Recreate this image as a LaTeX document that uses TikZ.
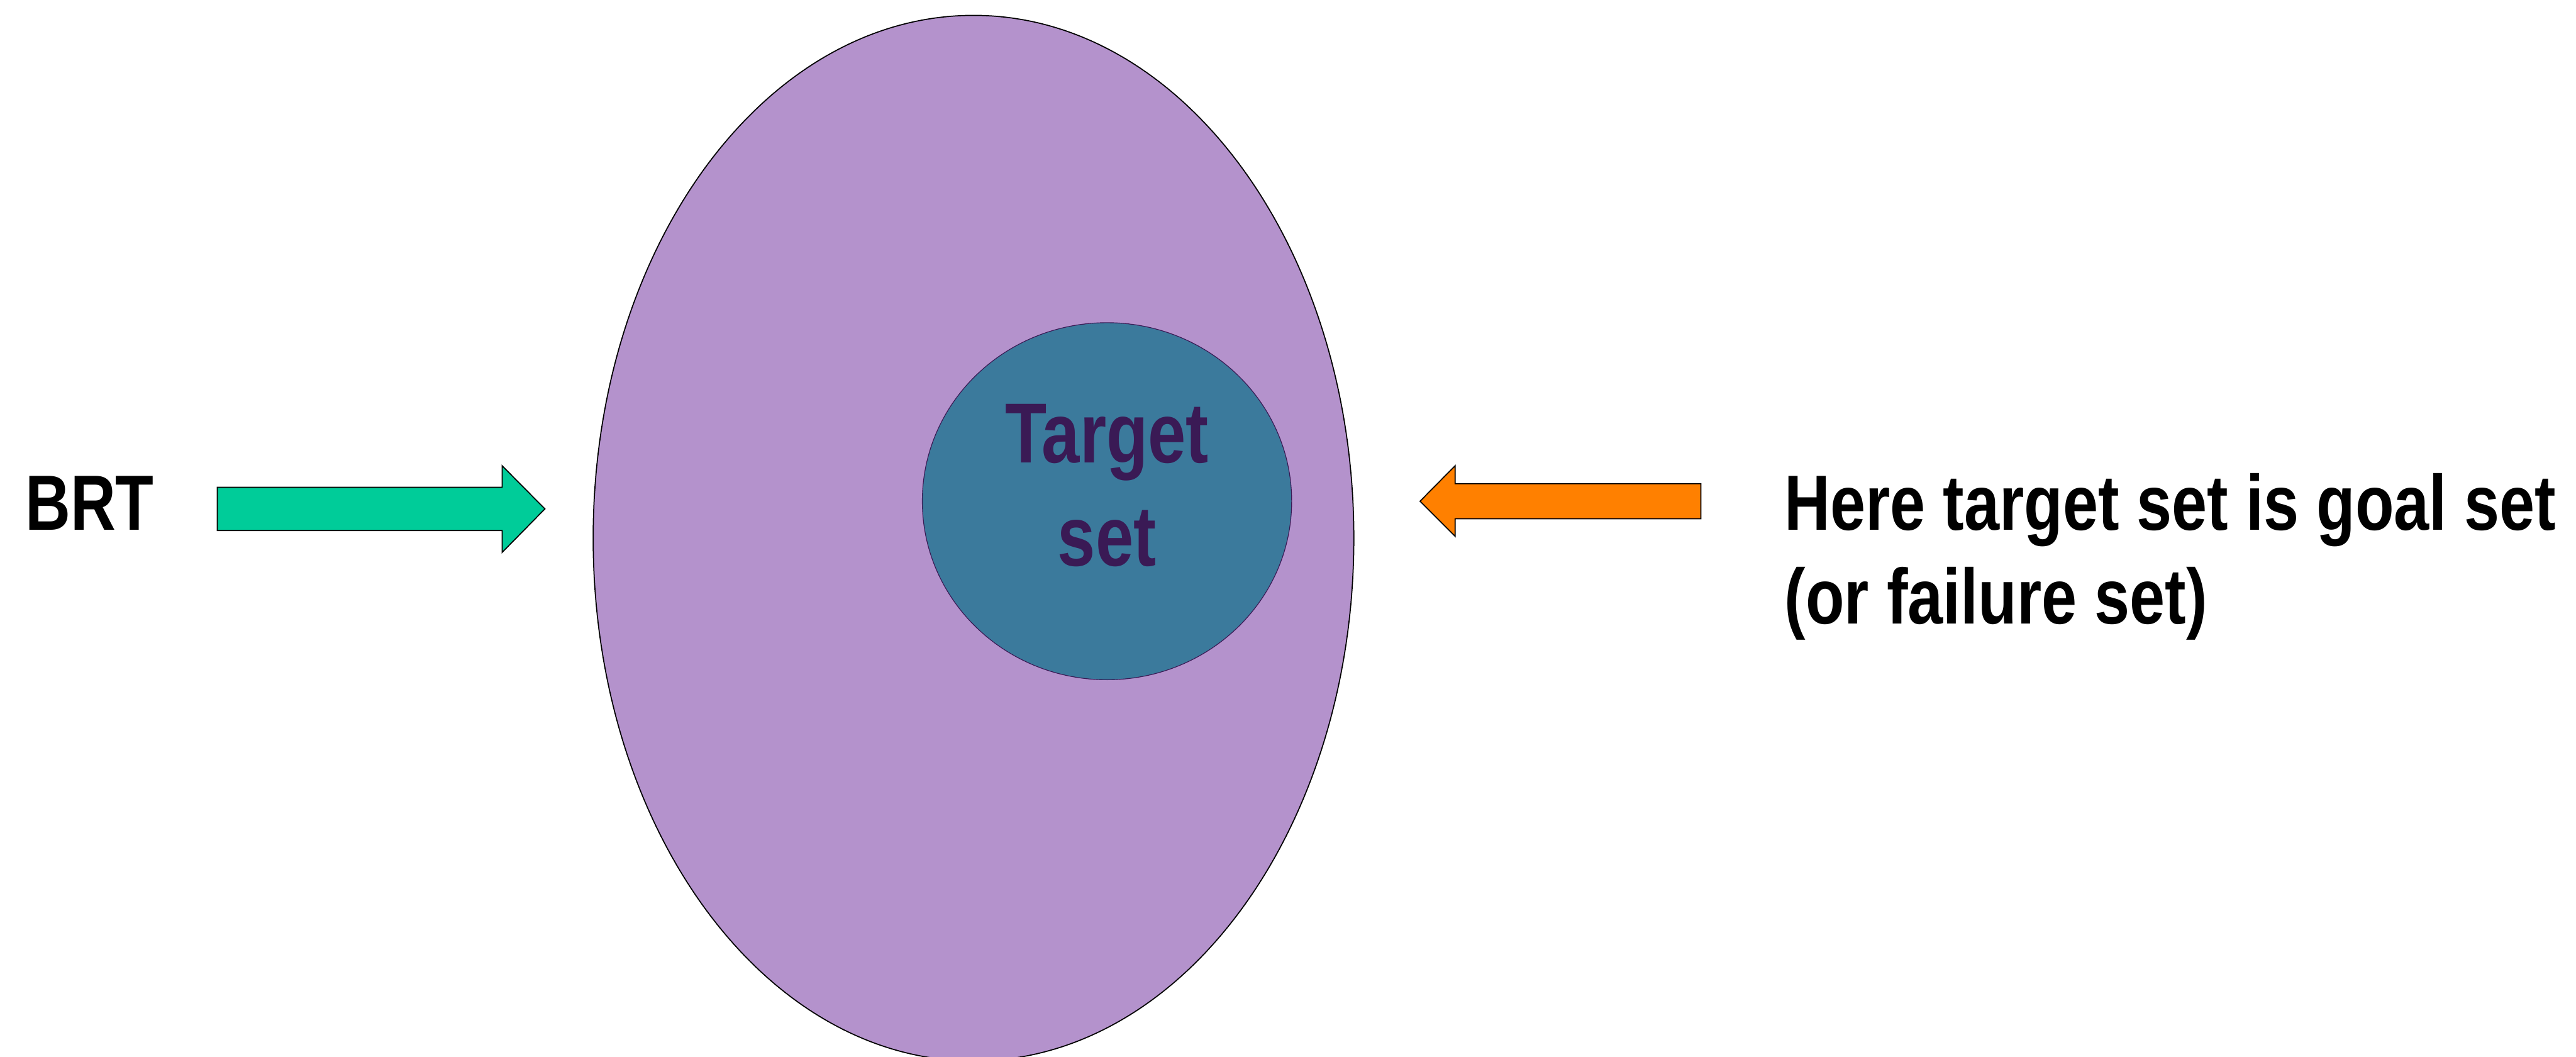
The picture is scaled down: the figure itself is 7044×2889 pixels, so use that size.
\documentclass[tikz,border=0pt]{standalone}
\usepackage{fontspec}
\setmainfont{Liberation Sans}[FakeStretch=0.8]
\newfontfamily\notefont{Liberation Sans}[FakeStretch=0.81]
\definecolor{regionfill}{HTML}{B492CC}
\definecolor{targetfill}{HTML}{3B7A9C}
\definecolor{darkplum}{HTML}{3A1A55}
\definecolor{brtgreen}{HTML}{00CC99}
\definecolor{goalorange}{HTML}{FF8000}
\tikzset{
  bigtext/.style={font=\bfseries\fontsize{214}{257}\selectfont, text=black, inner sep=0pt},
  notetext/.style={font=\notefont\bfseries\fontsize{214}{257}\selectfont, text=black, inner sep=0pt},
  settext/.style={font=\bfseries\fontsize{233}{283}\selectfont, text=darkplum, inner sep=0pt},
  blockarrow/.style={draw=black, line width=3, line join=miter},
}
\begin{document}
\begin{tikzpicture}[x=1pt, y=-1pt]
  \useasboundingbox (0,0) rectangle (7044,2889);
  \fill[white] (0,0) rectangle (7044,2889);

  % reachable tube and the target set inside it
  \coordinate (tubecentre) at (2662,1471);
  \coordinate (targetcentre) at (3027,1370);
  \draw[fill=regionfill, line width=3] (tubecentre) ellipse [x radius=1040, y radius=1429];
  \draw[fill=targetfill, draw=darkplum, line width=2] (targetcentre) ellipse [x radius=505, y radius=488];
  \node[settext, anchor=base] (target) at (3027,1264) {Target};
  \node[settext, anchor=base] (set) at (3027,1547) {set};

  % left label and arrow
  \node[bigtext, anchor=base west] (brt) at (69,1448) {BRT};
  \draw[blockarrow, fill=brtgreen]
    (594,1332) -- (1373,1332) -- (1373,1273) -- (1490,1391) -- (1373,1510)
    -- (1373,1450) -- (594,1450) -- cycle;

  % right arrow and explanation
  \draw[blockarrow, fill=goalorange]
    (4651,1322) -- (3979,1322) -- (3979,1273) -- (3883,1370) -- (3979,1466)
    -- (3979,1418) -- (4651,1418) -- cycle;
  \node[notetext, anchor=base west] (goal) at (4880,1448) {Here target set is goal set};
  \node[notetext, anchor=base west] (fail) at (4880,1705) {(or failure set)};
\end{tikzpicture}
\end{document}
